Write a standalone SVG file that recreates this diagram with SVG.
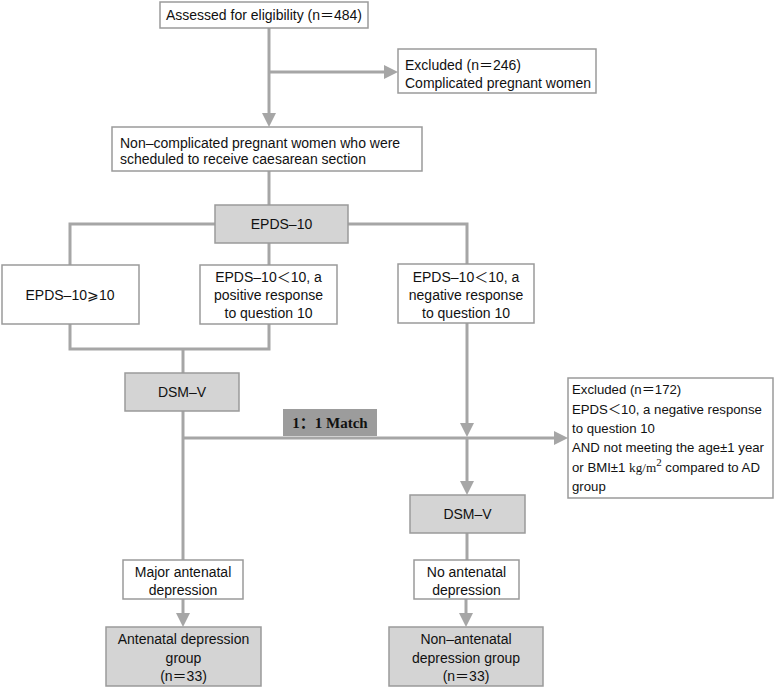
<svg xmlns="http://www.w3.org/2000/svg" width="778" height="687" viewBox="0 0 778 687">
<style>
.b{fill:#fff;stroke:#9a9a9a;stroke-width:1.5}
.g{fill:#d4d4d4;stroke:#9a9a9a;stroke-width:1.5}
text{font-family:"Liberation Sans","Noto Sans CJK SC",sans-serif;font-size:14px;fill:#111}
.c{text-anchor:middle}
.s{font-size:13.2px}
.ln{fill:none;stroke:#a6a6a6;stroke-width:3}
</style>
<defs>
<marker id="ah" markerUnits="userSpaceOnUse" markerWidth="14" markerHeight="14" refX="0" refY="7" orient="auto">
<path d="M0,0 L14,7 L0,14 z" fill="#a6a6a6"/>
</marker>
</defs>
<rect width="778" height="687" fill="#fff"/>
<g id="connectors">
<path class="ln" d="M269,28 V113" marker-end="url(#ah)"/>
<path class="ln" d="M269,72 H384" marker-end="url(#ah)"/>
<path class="ln" d="M269,171 V205"/>
<path class="ln" d="M215,224 H70 V265"/>
<path class="ln" d="M269,243 V265"/>
<path class="ln" d="M348,224 H467 V264"/>
<path class="ln" d="M70,324 V349 H269 V324"/>
<path class="ln" d="M183,349 V373"/>
<path class="ln" d="M183,411 V560"/>
<path class="ln" d="M183,438 H554" marker-end="url(#ah)"/>
<path class="ln" d="M467,323 V423" marker-end="url(#ah)"/>
<path class="ln" d="M467,438 V481" marker-end="url(#ah)"/>
<path class="ln" d="M467,533 V560"/>
<path class="ln" d="M183,599 V613" marker-end="url(#ah)"/>
<path class="ln" d="M466,599 V613" marker-end="url(#ah)"/>
</g>
<g id="assessed">
<rect class="b" x="160" y="2" width="208" height="26"/>
<text class="c" x="264" y="20">Assessed for eligibility (n＝484)</text>
</g>
<g id="excluded246">
<rect class="b" x="398" y="49" width="198" height="44"/>
<text x="405" y="70">Excluded (n＝246)</text>
<text x="405" y="88">Complicated pregnant women</text>
</g>
<g id="noncomplicated">
<rect class="b" x="112" y="127" width="310" height="44"/>
<text x="120" y="148">Non–complicated pregnant women who were</text>
<text x="120" y="164">scheduled to receive caesarean section</text>
</g>
<g id="epds">
<rect class="g" x="215" y="205" width="133" height="38"/>
<text class="c" x="281.5" y="229">EPDS–10</text>
</g>
<g id="epdsHigh">
<rect class="b" x="2" y="265" width="137" height="59"/>
<text class="c" x="70" y="300">EPDS–10⩾10</text>
</g>
<g id="epdsPositive">
<rect class="b" x="200" y="265" width="137" height="59"/>
<text class="c" x="268.5" y="282">EPDS–10＜10, a</text>
<text class="c" x="268.5" y="300">positive response</text>
<text class="c" x="268.5" y="318">to question 10</text>
</g>
<g id="epdsNegative">
<rect class="b" x="398" y="264" width="136" height="59"/>
<text class="c" x="466" y="282">EPDS–10＜10, a</text>
<text class="c" x="466" y="300">negative response</text>
<text class="c" x="466" y="318">to question 10</text>
</g>
<g id="dsmLeft">
<rect class="g" x="125" y="373" width="114" height="38"/>
<text class="c" x="182" y="397">DSM–V</text>
</g>
<g id="match">
<rect x="283" y="409" width="94" height="27" fill="#9c9c9c"/>
<text class="c" x="330" y="428" style="font-family:'Liberation Serif','Noto Sans CJK SC',serif;font-weight:bold;font-size:15px">1：1 Match</text>
</g>
<g id="excluded172">
<rect class="b" x="568" y="378" width="205" height="120"/>
<text class="s" x="572" y="394">Excluded (n＝172)</text>
<text class="s" x="572" y="414">EPDS＜10, a negative response</text>
<text class="s" x="572" y="433">to question 10</text>
<text class="s" x="572" y="452">AND not meeting the age±1 year</text>
<text class="s" x="572" y="472">or BMI±1 <tspan style="font-family:'Liberation Serif',serif">kg/m</tspan><tspan style="font-family:'Liberation Serif',serif;font-size:11px" dy="-6">2</tspan><tspan dy="6"> compared to AD</tspan></text>
<text class="s" x="572" y="491">group</text>
</g>
<g id="dsmRight">
<rect class="g" x="410" y="495" width="115" height="38"/>
<text class="c" x="467.5" y="519">DSM–V</text>
</g>
<g id="majorDepression">
<rect class="b" x="123" y="560" width="120" height="39"/>
<text class="c" x="183" y="577">Major antenatal</text>
<text class="c" x="183" y="595">depression</text>
</g>
<g id="adGroup">
<rect class="g" x="106" y="627" width="155" height="59"/>
<text class="c" x="183.5" y="644">Antenatal depression</text>
<text class="c" x="183.5" y="663">group</text>
<text class="c" x="183.5" y="681">(n＝33)</text>
</g>
<g id="noDepression">
<rect class="b" x="414" y="560" width="105" height="39"/>
<text class="c" x="466.5" y="577">No antenatal</text>
<text class="c" x="466.5" y="595">depression</text>
</g>
<g id="nadGroup">
<rect class="g" x="389" y="627" width="154" height="59"/>
<text class="c" x="466" y="644">Non–antenatal</text>
<text class="c" x="466" y="663">depression group</text>
<text class="c" x="466" y="681">(n＝33)</text>
</g>
</svg>
